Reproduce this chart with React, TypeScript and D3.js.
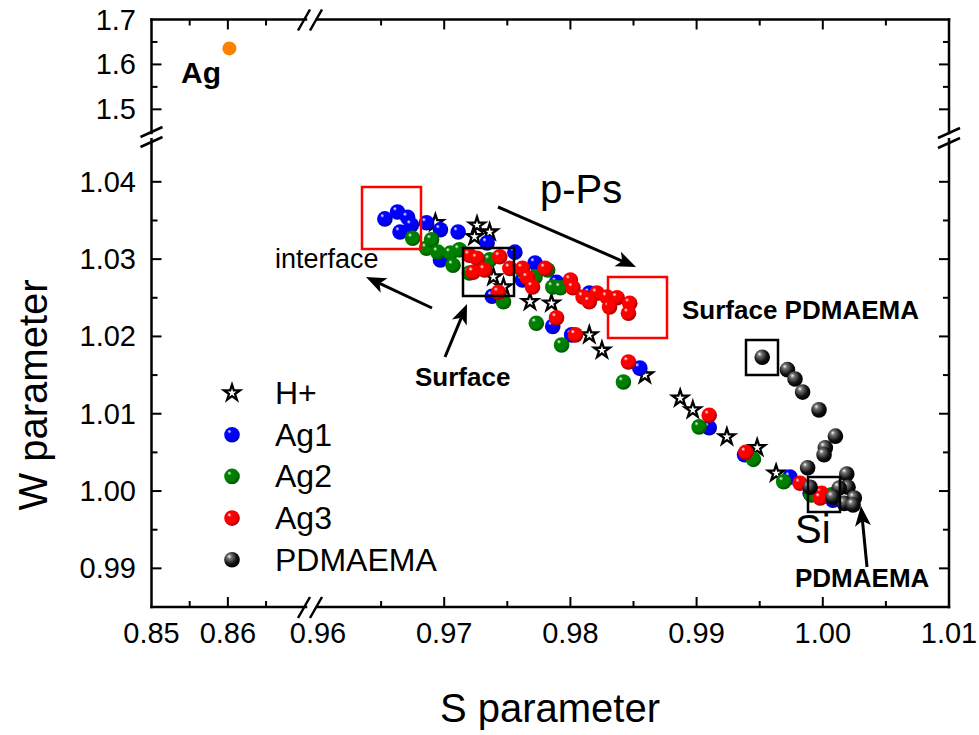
import React from "react";
import * as d3 from "d3";

// ---------- data (S parameter, W parameter) ----------
const agBulk: [number, number][] = [[0.8602, 1.6356]];

const hPlus: [number, number][] = [
  [0.9693, 1.0347], [0.9726, 1.0344], [0.9724, 1.0329], [0.9736, 1.0335],
  [0.9739, 1.0277], [0.9747, 1.0264], [0.9768, 1.0245], [0.9785, 1.0243],
  [0.9815, 1.0202], [0.9825, 1.0182], [0.9859, 1.015], [0.9887, 1.012],
  [0.9897, 1.0105], [0.9924, 1.007], [0.9948, 1.0056], [0.9963, 1.0023],
];

const ag1: [number, number][] = [
  [0.9653, 1.0352], [0.9663, 1.0361], [0.9671, 1.0354], [0.9665, 1.0335],
  [0.9674, 1.0344], [0.9686, 1.0347], [0.9697, 1.0338], [0.9711, 1.0335],
  [0.9734, 1.0321], [0.9697, 1.0299], [0.9756, 1.0309], [0.9772, 1.0295],
  [0.9762, 1.0273], [0.9789, 1.027], [0.9815, 1.0256], [0.9738, 1.0252],
  [0.9786, 1.0213], [0.9801, 1.0202], [0.9855, 1.0159], [0.991, 1.0082],
  [0.9938, 1.0047], [0.9974, 1.0018], [0.999, 0.9997], [1.0008, 0.9988],
];

const ag2: [number, number][] = [
  [0.9675, 1.0327], [0.9686, 1.0314], [0.969, 1.0325], [0.9695, 1.0309],
  [0.9705, 1.0308], [0.9707, 1.0292], [0.9712, 1.0312], [0.972, 1.0282],
  [0.9736, 1.0299], [0.9747, 1.0245], [0.9762, 1.0286], [0.9772, 1.0277],
  [0.9782, 1.0286], [0.9786, 1.0264], [0.9792, 1.0263], [0.9773, 1.0217],
  [0.9793, 1.0189], [0.9842, 1.0141], [0.9902, 1.0083], [0.9945, 1.0041],
  [0.9969, 1.0012], [0.9991, 0.9995], [1.0007, 0.9995],
];

const ag3: [number, number][] = [
  [0.972, 1.0305], [0.9726, 1.0301], [0.9723, 1.0283], [0.9732, 1.0286],
  [0.9744, 1.0303], [0.9752, 1.0288], [0.9762, 1.0288], [0.9766, 1.0276],
  [0.977, 1.0264], [0.9743, 1.0257], [0.978, 1.0288], [0.9789, 1.0224],
  [0.9804, 1.0202], [0.98, 1.0273], [0.9802, 1.0263], [0.981, 1.0251],
  [0.9821, 1.0256], [0.9815, 1.0245], [0.9829, 1.0251], [0.9837, 1.025],
  [0.9847, 1.0243], [0.9846, 1.023], [0.9831, 1.0238], [0.9846, 1.0167],
  [0.991, 1.0098], [0.9939, 1.005], [0.9982, 1.001], [0.9999, 0.9997],
  [0.9998, 0.9991],
];

const pdmaema: [number, number][] = [
  [0.9952, 1.0173], [0.9972, 1.0157], [0.9978, 1.0145], [0.9984, 1.0128],
  [0.9997, 1.0105], [1.001, 1.0071], [1.0002, 1.0056], [1.0001, 1.0047],
  [0.9988, 1.003], [1.0019, 1.0022], [1.002, 1.0005], [1.0013, 1.0004],
  [1.0025, 0.9991], [1.0017, 0.9984], [1.0024, 0.9982], [0.999, 1.0005],
  [1.0008, 0.9992],
];

const legendLabels = ["H+", "Ag1", "Ag2", "Ag3", "PDMAEMA"];
const seriesColors = ["star", "#0000ff", "#008000", "#ff0000", "#000000"];

const xLeftMajor = [0.85, 0.86];
const xLeftMinor = [0.855, 0.865];
const xRightMajor = [0.96, 0.97, 0.98, 0.99, 1.0, 1.01];
const xRightMinor = [0.965, 0.975, 0.985, 0.995, 1.005];
const yTopMajor = [1.5, 1.6, 1.7];
const yTopMinor = [1.55, 1.65];
const yLowMajor = [0.99, 1.0, 1.01, 1.02, 1.03, 1.04];
const yLowMinor = [0.995, 1.005, 1.015, 1.025, 1.035];

// ---------- layout ----------
const W = 979;
const H = 735;
const L = 151.5;
const R = 949;
const T = 19.5;
const B = 607;

const xL = d3.scaleLinear().domain([0.85, 0.8701]).range([L, 305]);
const xR = d3.scaleLinear().domain([0.96, 1.01]).range([318, R]);
const yT = d3.scaleLinear().domain([1.4473, 1.7]).range([133, T]);
const yB = d3.scaleLinear().domain([0.985, 1.0455]).range([B, 139.3]);

const FONT = "'Liberation Sans', Arial, Helvetica, sans-serif";

const starPath = d3.symbol().type(d3.symbolStar).size(78)() as string;

function Sphere({ x, y, color, r = 7.8 }: { x: number; y: number; color: string; r?: number }) {
  const id = "g" + color.replace("#", "");
  return <circle cx={x} cy={y} r={r} fill={`url(#${id})`} />;
}

function Star({ x, y }: { x: number; y: number }) {
  return (
    <path
      d={starPath}
      transform={`translate(${x},${y})`}
      fill="#fff"
      stroke="#000"
      strokeWidth={2.3}
      strokeLinejoin="miter"
    />
  );
}

function Arrow({ x1, y1, x2, y2 }: { x1: number; y1: number; x2: number; y2: number }) {
  const ang = Math.atan2(y2 - y1, x2 - x1);
  const len = 20;
  const half = 8;
  const bx = x2 - len * Math.cos(ang);
  const by = y2 - len * Math.sin(ang);
  const nx = -Math.sin(ang);
  const ny = Math.cos(ang);
  const nb = 5;
  const cx = x2 - (len - nb) * Math.cos(ang);
  const cy = y2 - (len - nb) * Math.sin(ang);
  const head = `M${x2},${y2} L${bx + nx * half},${by + ny * half} L${cx},${cy} L${bx - nx * half},${by - ny * half} Z`;
  return (
    <g>
      <line x1={x1} y1={y1} x2={cx} y2={cy} stroke="#000" strokeWidth={3} />
      <path d={head} fill="#000" />
    </g>
  );
}

export default function App() {
  const colors = ["#0000ff", "#008000", "#ff0000", "#000000"];
  const fw = 2.5;
  const majorLen = 10;
  const minorLen = 6;

  const xTicks: { x: number; major: boolean }[] = [
    ...xLeftMajor.slice(1).map((v) => ({ x: xL(v), major: true })),
    ...xLeftMinor.map((v) => ({ x: xL(v), major: false })),
    ...xRightMajor.slice(1, -1).map((v) => ({ x: xR(v), major: true })),
    ...xRightMinor.map((v) => ({ x: xR(v), major: false })),
  ];
  const yTicks: { y: number; major: boolean }[] = [
    ...yTopMajor.slice(0, -1).map((v) => ({ y: yT(v), major: true })),
    ...yTopMinor.map((v) => ({ y: yT(v), major: false })),
    ...yLowMajor.map((v) => ({ y: yB(v), major: true })),
    ...yLowMinor.map((v) => ({ y: yB(v), major: false })),
  ];

  const breakSlash = (x: number, y: number, key: string, horiz: boolean) => {
    if (horiz) {
      return (
        <g key={key} stroke="#000" strokeWidth={2.5}>
          <line x1={x - 13} y1={y + 11} x2={x - 1} y2={y - 10} />
          <line x1={x - 1} y1={y + 11} x2={x + 11} y2={y - 10} />
        </g>
      );
    }
    return (
      <g key={key} stroke="#000" strokeWidth={2.5}>
        <line x1={x - 11} y1={y + 1} x2={x + 11} y2={y - 9} />
        <line x1={x - 11} y1={y + 11} x2={x + 11} y2={y + 1} />
      </g>
    );
  };

  const series = [ag1, ag2, ag3, pdmaema];

  return (
    <svg
      width={W}
      height={H}
      style={{ position: "absolute", left: 0, top: 0, background: "#fff" }}
      fontFamily={FONT}
    >
      <defs>
        {colors.concat(["#ff8000"]).map((c) => (
          <radialGradient key={c} id={"g" + c.replace("#", "")} cx="40%" cy="38%" r="62%" fx="32%" fy="28%">
            <stop offset="0%" stopColor="#ffffff" />
            <stop offset="22%" stopColor={c === "#000000" ? "#777" : c} stopOpacity={1} />
            <stop offset="70%" stopColor={c === "#000000" ? "#111" : c} />
            <stop offset="100%" stopColor={c === "#000000" ? "#000" : d3.color(c)!.darker(1.2).formatHex()} />
          </radialGradient>
        ))}
      </defs>
      <rect x={0} y={0} width={W} height={H} fill="#fff" />

      <g stroke="#000" strokeWidth={fw} fill="none" strokeLinecap="square">
        <line x1={L} y1={T} x2={L} y2={yT.range()[0]} />
        <line x1={L} y1={yB.range()[1]} x2={L} y2={B} />
        <line x1={R} y1={T} x2={R} y2={yT.range()[0]} />
        <line x1={R} y1={yB.range()[1]} x2={R} y2={B} />
        <line x1={L} y1={B} x2={306} y2={B} />
        <line x1={317} y1={B} x2={R} y2={B} />
        <line x1={L} y1={T} x2={306} y2={T} />
        <line x1={317} y1={T} x2={R} y2={T} />
      </g>
      {breakSlash(311, B, "bb", true)}
      {breakSlash(311, T, "bt", true)}
      {breakSlash(L, 136, "bl", false)}
      {breakSlash(R, 137, "br", false)}

      <g stroke="#000" strokeWidth={2}>
        {xTicks.map((t, i) => (
          <g key={"xt" + i}>
            <line x1={t.x} y1={B} x2={t.x} y2={B - (t.major ? majorLen : minorLen)} />
            <line x1={t.x} y1={T} x2={t.x} y2={T + (t.major ? majorLen : minorLen)} />
          </g>
        ))}
        {yTicks.map((t, i) => (
          <g key={"yt" + i}>
            <line x1={L} y1={t.y} x2={L + (t.major ? majorLen : minorLen)} y2={t.y} />
            <line x1={R} y1={t.y} x2={R - (t.major ? majorLen : minorLen)} y2={t.y} />
          </g>
        ))}
      </g>

      <g fontSize={29} fill="#000" textAnchor="middle">
        {xLeftMajor.map((v) => (
          <text key={"xl" + v} x={xL(v)} y={643}>{v.toFixed(2)}</text>
        ))}
        {xRightMajor.map((v) => (
          <text key={"xr" + v} x={xR(v)} y={643}>{v.toFixed(2)}</text>
        ))}
      </g>
      <g fontSize={29} fill="#000" textAnchor="end">
        {yTopMajor.map((v) => (
          <text key={"yt" + v} x={136} y={yT(v) + 10}>{v.toFixed(1)}</text>
        ))}
        {yLowMajor.map((v) => (
          <text key={"yl" + v} x={136} y={yB(v) + 10}>{v.toFixed(2)}</text>
        ))}
      </g>

      <text x={550} y={722} fontSize={40} textAnchor="middle">S parameter</text>
      <text transform="translate(47,395) rotate(-90)" fontSize={40} textAnchor="middle">W parameter</text>

      {agBulk.map((d, i) => (
        <circle key={"ag" + i} cx={xL(d[0])} cy={yT(d[1])} r={7} fill="#ff8000" />
      ))}
      <text x={181} y={83} fontSize={30} fontWeight="bold">Ag</text>

      {hPlus.map((d, i) => (
        <Star key={"h" + i} x={xR(d[0])} y={yB(d[1])} />
      ))}
      {series.map((s, si) =>
        s.map((d, i) => <Sphere key={si + "-" + i} x={xR(d[0])} y={yB(d[1])} color={colors[si]} />)
      )}

      <g fill="none" strokeWidth={2.5}>
        <rect x={362} y={187} width={59} height={62} stroke="#ff0000" />
        <rect x={608} y={277} width={59} height={61} stroke="#ff0000" />
        <rect x={463} y={248} width={51} height={48} stroke="#000" />
        <rect x={746} y={340} width={32} height={35} stroke="#000" />
        <rect x={808} y={477} width={32} height={35} stroke="#000" />
      </g>

      <text x={540} y={203} fontSize={40}>p-Ps</text>
      <text x={275} y={268} fontSize={27}>interface</text>
      <text x={415} y={386} fontSize={26} fontWeight="bold">Surface</text>
      <text x={682} y={319} fontSize={26} fontWeight="bold">Surface PDMAEMA</text>
      <text x={795} y={543} fontSize={40}>Si</text>
      <text x={795} y={587} fontSize={26} fontWeight="bold">PDMAEMA</text>

      <Arrow x1={498} y1={207} x2={636} y2={267} />
      <Arrow x1={432} y1={308} x2={366} y2={277} />
      <Arrow x1={445} y1={357} x2={467} y2={304} />
      <Arrow x1={867} y1={567} x2={861} y2={506} />

      {legendLabels.map((lab, i) => {
        const y = 393 + i * 41.7;
        return (
          <g key={"lg" + i}>
            {seriesColors[i] === "star" ? (
              <Star x={232} y={y} />
            ) : (
              <Sphere x={232} y={y} color={seriesColors[i]} />
            )}
            <text x={275} y={y + 11} fontSize={32}>{lab}</text>
          </g>
        );
      })}
    </svg>
  );
}
